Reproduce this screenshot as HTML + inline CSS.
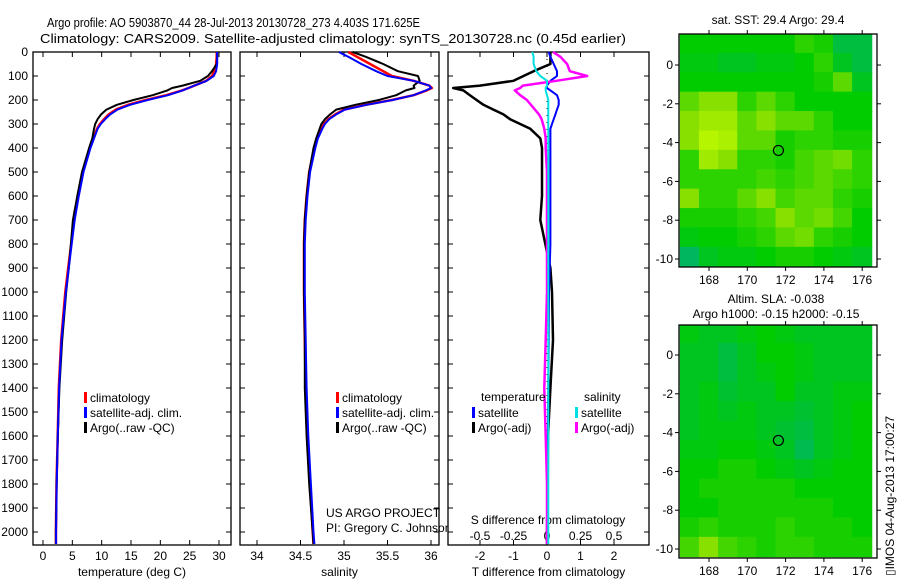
<!DOCTYPE html>
<html><head><meta charset="utf-8"><style>
html,body{margin:0;padding:0;background:#fff;}
svg{display:block;font-family:"Liberation Sans",sans-serif;}
</style></head><body>
<svg id="chart" width="900" height="580" xmlns="http://www.w3.org/2000/svg">
<text x="47" y="27" font-size="12.5" textLength="373" lengthAdjust="spacingAndGlyphs">Argo profile: AO 5903870_44 28-Jul-2013 20130728_273 4.403S 171.625E</text>
<text x="40" y="43" font-size="12.5" textLength="586" lengthAdjust="spacingAndGlyphs">Climatology: CARS2009. Satellite-adjusted climatology: synTS_20130728.nc (0.45d earlier)</text>
<g id="g"></g>
</svg>
<script>
const depths=[0,20,50,80,100,120,140,150,160,180,200,220,240,260,280,300,320,360,400,500,600,700,800,900,1000,1200,1400,1600,1800,2000,2050];
const climT=[29.6,29.6,29.5,29.2,28.8,27.8,25.8,24.8,23.7,21,17.5,14.5,12.4,11.2,10.4,9.7,9.2,8.6,8.0,6.8,6.0,5.3,4.8,4.3,3.8,3.1,2.7,2.5,2.3,2.2,2.2];
const satT=[29.65,29.7,29.7,29.5,29.1,27.9,25.8,24.8,23.8,21.3,17.85,14.85,12.7,11.45,10.6,9.85,9.3,8.7,8.1,6.9,6.1,5.4,4.9,4.4,3.9,3.15,2.75,2.53,2.33,2.23,2.23];
const argoT=[29.7,29.7,29.6,28.8,28.1,26.8,23.8,22.0,21.2,18.7,15.4,12.6,10.8,9.9,9.3,8.9,8.7,8.4,7.85,6.65,5.85,5.1,4.75,4.4,3.95,3.28,2.8,2.53,2.32,2.2,2.2];
const climS=[35.05,35.15,35.3,35.45,35.55,35.8,35.98,36.01,35.95,35.8,35.55,35.25,35.0,34.9,34.82,34.77,34.74,34.69,34.66,34.6,34.57,34.55,34.54,34.54,34.54,34.55,34.56,34.58,34.61,34.64,34.65];
const satS=[34.94,35.05,35.2,35.37,35.5,35.8,35.98,36.0,35.94,35.8,35.56,35.26,35.01,34.91,34.83,34.78,34.75,34.7,34.67,34.61,34.58,34.56,34.55,34.55,34.55,34.56,34.57,34.59,34.62,34.65,34.66];
const argoS=[35.1,35.25,35.45,35.62,35.85,35.87,35.8,35.81,35.71,35.6,35.4,35.13,34.91,34.84,34.78,34.74,34.72,34.68,34.65,34.6,34.57,34.55,34.54,34.54,34.54,34.55,34.55,34.57,34.6,34.64,34.65];
const diffTsat=[0.05,0.1,0.2,0.3,0.3,0.1,0,0,0.1,0.3,0.35,0.35,0.3,0.25,0.2,0.15,0.1,0.1,0.1,0.1,0.1,0.1,0.1,0.08,0.06,0.05,0.04,0.03,0.03,0.03,0.03];
const diffTargo=[0.1,0.1,0.1,-0.4,-0.7,-1.0,-2.0,-2.8,-2.5,-2.3,-2.1,-1.9,-1.6,-1.3,-1.1,-0.8,-0.5,-0.2,-0.15,-0.15,-0.15,-0.2,-0.05,0.1,0.15,0.18,0.1,0.03,0.02,0,0];
const diffSsat=[-0.11,-0.1,-0.1,-0.08,-0.05,0,0,-0.01,-0.01,0,0.01,0.01,0.01,0.01,0.01,0.01,0.01,0.01,0.01,0.01,0.01,0.01,0.01,0.01,0.01,0.01,0.01,0.01,0.01,0.01,0.01];
const diffSargo=[0.045,0.1,0.15,0.17,0.3,0.07,-0.18,-0.2,-0.24,-0.2,-0.15,-0.12,-0.09,-0.06,-0.04,-0.03,-0.02,-0.01,-0.01,0,0,0,0,0,0,-0.01,-0.02,-0.01,0,0,0];
const depthTicks=[0,100,200,300,400,500,600,700,800,900,1000,1100,1200,1300,1400,1500,1600,1700,1800,1900,2000];
const tempTicks=[0,5,10,15,20,25,30];
const salTicks=[34,34.5,35,35.5,36];
const tdiffTicks=[-2,-1,0,1,2];
const sdiffTicks=[-0.5,-0.25,0,0.25,0.5];
const sdiffTickLabels=["-0.5","-0.25","0","0.25","0.5"];
const lonTicks=[168,170,172,174,176];
const latTicks=[0,-2,-4,-6,-8,-10];
const sstGrid=[
[0.4,0.4,0.4,0.4,0.4,0.4,0.5,0.45,0.2,0.2],
[0.35,0.35,0.3,0.3,0.35,0.35,0.4,0.5,0.3,0.2],
[0.4,0.4,0.4,0.4,0.4,0.4,0.4,0.45,0.6,0.3],
[0.6,0.7,0.7,0.5,0.6,0.5,0.4,0.4,0.4,0.4],
[0.7,0.8,0.8,0.6,0.7,0.6,0.6,0.5,0.4,0.4],
[0.7,0.9,0.85,0.6,0.6,0.45,0.5,0.5,0.45,0.45],
[0.5,0.8,0.7,0.5,0.5,0.45,0.55,0.6,0.65,0.5],
[0.5,0.5,0.5,0.5,0.55,0.5,0.55,0.6,0.55,0.5],
[0.7,0.5,0.5,0.6,0.7,0.55,0.6,0.6,0.5,0.45],
[0.45,0.45,0.45,0.5,0.55,0.7,0.6,0.65,0.55,0.4],
[0.35,0.4,0.4,0.45,0.5,0.6,0.65,0.5,0.45,0.4],
[0.1,0.3,0.35,0.35,0.4,0.45,0.45,0.4,0.35,0.3]];
const slaGrid=[
[0.35,0.3,0.3,0.35,0.4,0.35,0.3,0.3,0.3,0.3],
[0.3,0.3,0.2,0.3,0.4,0.4,0.35,0.3,0.3,0.3],
[0.3,0.3,0.2,0.3,0.35,0.4,0.35,0.3,0.3,0.3],
[0.3,0.35,0.25,0.3,0.3,0.4,0.3,0.3,0.35,0.35],
[0.3,0.35,0.3,0.35,0.3,0.3,0.25,0.3,0.35,0.4],
[0.3,0.35,0.35,0.35,0.3,0.25,0.2,0.3,0.35,0.4],
[0.35,0.35,0.4,0.4,0.35,0.3,0.15,0.3,0.35,0.4],
[0.4,0.4,0.45,0.45,0.4,0.35,0.3,0.35,0.4,0.4],
[0.4,0.45,0.45,0.45,0.45,0.45,0.4,0.4,0.4,0.4],
[0.4,0.4,0.45,0.45,0.45,0.45,0.45,0.45,0.4,0.4],
[0.45,0.5,0.45,0.45,0.45,0.5,0.45,0.45,0.45,0.4],
[0.55,0.7,0.55,0.5,0.45,0.5,0.5,0.45,0.45,0.45]];
const floatPos=[171.625,-4.403];

const NS="http://www.w3.org/2000/svg";
const G=document.getElementById('g');
function mk(tag,at,parent){const e=document.createElementNS(NS,tag);for(const k in at)e.setAttribute(k,at[k]);(parent||G).appendChild(e);return e;}
function txt(x,y,s,anchor,size,parent){const t=mk('text',{x:x,y:y,'font-size':size||12,'text-anchor':anchor||'start'},parent);t.textContent=s;return t;}
const TOP=52,BOT=545;
const yD=d=>TOP+d*0.24;

function panel(name,x0,x1,xf,ticks,labels,xlabel){
  const g=mk('g',{});
  
  
  const r=mk('rect',{x:x0,y:TOP,width:x1-x0,height:BOT-TOP,fill:'#fff',stroke:'#000','stroke-width':1.3},g);
  
  
  depthTicks.forEach(d=>{
    mk('line',{x1:x0,x2:x0+5,y1:yD(d),y2:yD(d),stroke:'#000'},g);
    mk('line',{x1:x1-5,x2:x1,y1:yD(d),y2:yD(d),stroke:'#000'},g);
  });
  if(ticks){ticks.forEach((v,i)=>{
    const x=xf(v);
    mk('line',{x1:x,x2:x,y1:BOT,y2:BOT-5,stroke:'#000'},g);
    mk('line',{x1:x,x2:x,y1:TOP,y2:TOP+5,stroke:'#000'},g);
    const t=txt(x,560,labels?labels[i]:String(v),'middle',12,g);
    
    
  });}
  if(xlabel){const t=txt((x0+x1)/2,576,xlabel,'middle',12,g);
    
    }
  return g;
}
function series(name,vals,xf,color,g,w){
  const pts=vals.map((v,i)=>xf(v).toFixed(1)+','+yD(depths[i]).toFixed(1)).join(' ');
  const p=mk('polyline',{points:pts,fill:'none',stroke:color,'stroke-width':w||2,'stroke-linejoin':'round'},g);
  
  
}
function legend(g,x,y,items){
  items.forEach((it,i)=>{
    mk('rect',{x:x,y:y+i*15-5,width:3,height:11,fill:it[1]},g);
    const t=txt(x+6,y+i*15+5,it[0],'start',12,g);
    
    
  });
}

depthTicks.forEach(d=>{const t=txt(28,yD(d)+4,String(d),'end',12);
  
  });

const xT=v=>43+v*5.867;
const p1=panel('temperature-panel',33,231,xT,tempTicks,null,'temperature (deg C)');
series('climatology-temperature',climT,xT,'#ff0000',p1,2.5);
series('argo-temperature',argoT,xT,'#000',p1,2);
series('satellite-temperature',satT,xT,'#0000ff',p1,2);
legend(p1,84,397,[['climatology','#ff0000'],['satellite-adj. clim.','#0000ff'],['Argo(..raw -QC)','#000']]);

const xS=v=>257+(v-34)*87;
const p2=panel('salinity-panel',240,439,xS,salTicks,null,'salinity');
series('climatology-salinity',climS,xS,'#ff0000',p2,2.5);
series('argo-salinity',argoS,xS,'#000',p2,2);
series('satellite-salinity',satS,xS,'#0000ff',p2,2);
legend(p2,336,397,[['climatology','#ff0000'],['satellite-adj. clim.','#0000ff'],['Argo(..raw -QC)','#000']]);
{const t=txt(326,517,'US ARGO PROJECT','start',12,p2);
 const u=txt(326,532,'PI: Gregory C. Johnson','start',12,p2);}

const xTd=v=>547+v*33.5;
const xSd=v=>547+v*134;
const p3=panel('difference-panel',448,649,xTd,tdiffTicks,null,'T difference from climatology');
sdiffTicks.forEach((v,i)=>{const t=txt(xSd(v),540,sdiffTickLabels[i],'middle',12,p3);
  });
{const t=txt(548,524,'S difference from climatology','middle',12,p3);}
mk('line',{x1:547,x2:547,y1:TOP,y2:BOT,stroke:'#000','stroke-dasharray':'1,6'},p3);
series('argo-temperature-difference',diffTargo,xTd,'#000',p3,2.5);
series('satellite-temperature-difference',diffTsat,xTd,'#0000ff',p3,2);
series('argo-salinity-difference',diffSargo,xSd,'#ff00ff',p3,2.5);
series('satellite-salinity-difference',diffSsat,xSd,'#00e0e0',p3,2);
{const t=txt(481,401,'temperature','start',12,p3);
 const u=txt(584,401,'salinity','start',12,p3);}
legend(p3,472,412,[['satellite','#0000ff'],['Argo(-adj)','#000']]);
legend(p3,575,412,[['satellite','#00e0e0'],['Argo(-adj)','#ff00ff']]);

function ramp(v){
  const stops=[[0,[0,176,128]],[0.4,[0,204,0]],[0.7,[136,224,0]],[1,[204,255,0]]];
  for(let i=1;i<stops.length;i++){if(v<=stops[i][0]){const a=stops[i-1],b=stops[i];const t=(v-a[0])/(b[0]-a[0]);
    return 'rgb('+a[1].map((c,k)=>Math.round(c+(b[1][k]-c)*t)).join(',')+')';}}
  return 'rgb(204,255,0)';
}
function map(name,grid,y0,lat0y,xlabY){
  const X0=679,X1=877,Y1=y0+233;
  const xL=lon=>709+(lon-168)*19.15;
  const yL=lat=>lat0y-lat*19.4;
  const g=mk('g',{});
  
  
  const cp='clip-'+name;
  const cl=mk('clipPath',{id:cp},g);mk('rect',{x:X0,y:y0,width:X1-X0,height:233},cl);
  const cg=mk('g',{'clip-path':'url(#'+cp+')'},g);
  grid.forEach((row,r)=>row.forEach((v,c)=>{
    const lon=166.5+c, lat=1.6-r;
    const rc=mk('rect',{x:xL(lon)-0.5,y:yL(lat)-0.5,width:19.15+1,height:19.4+1,fill:ramp(v)},cg);
    
    
  }));
  mk('rect',{x:X0,y:y0,width:X1-X0,height:233,fill:'none',stroke:'#000','stroke-width':1.3},g);
  lonTicks.forEach(l=>{const x=xL(l);
    mk('line',{x1:x,x2:x,y1:y0-4,y2:y0,stroke:'#000'},g);
    mk('line',{x1:x,x2:x,y1:Y1,y2:Y1+4,stroke:'#000'},g);
    const t=txt(x,xlabY,String(l),'middle',12,g);});
  latTicks.forEach(l=>{const y=yL(l);
    mk('line',{x1:X0-4,x2:X0,y1:y,y2:y,stroke:'#000'},g);
    mk('line',{x1:X1,x2:X1+4,y1:y,y2:y,stroke:'#000'},g);
    const t=txt(673,y+4,String(l),'end',12,g);});
  const c=mk('circle',{cx:xL(floatPos[0]),cy:yL(floatPos[1]),r:5,fill:'none',stroke:'#000','stroke-width':1.2},g);
  
  
  return g;
}
const m1=map('sst-map',sstGrid,34,65,284);
const m2=map('sla-map',slaGrid,325,355,575);
{const t=txt(778,24,'sat. SST: 29.4 Argo: 29.4','middle',12,m1);
 const a=txt(776,303,'Altim. SLA: -0.038','middle',12,m2);
 const b=txt(776,318,'Argo h1000: -0.15 h2000: -0.15','middle',12,m2);
 const s=txt(0,0,'▯IMOS 04-Aug-2013 17:00:27','start',12);
 s.setAttribute('transform','translate(894,576) rotate(-90)');
 }
</script>
</body></html>
